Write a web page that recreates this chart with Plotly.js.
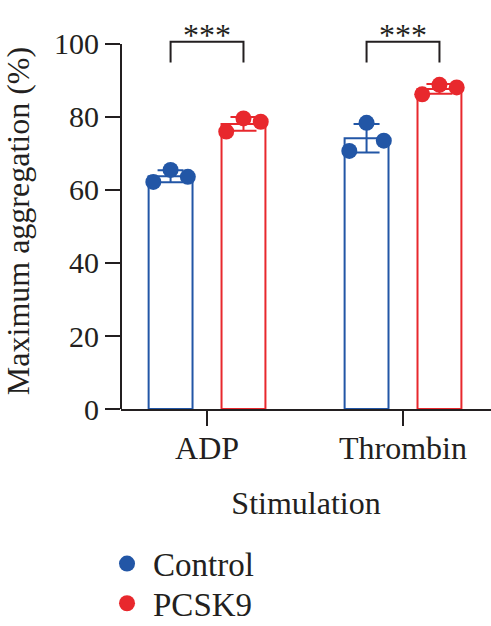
<!DOCTYPE html>
<html>
<head>
<meta charset="utf-8">
<script src="https://cdn.plot.ly/plotly-3.0.1.min.js"></script>
<style>
  html, body { margin: 0; padding: 0; background: #ffffff; }
  #chart { width: 491px; height: 626px; }
</style>
</head>
<body>
<div id="chart"></div>
<script>
// Platelet aggregation by stimulus: three replicates per group
const categories = ['ADP', 'Thrombin'];
const controlValues = [[62.2, 65.5, 63.6], [70.7, 78.4, 73.5]];
const pcsk9Values = [[76.0, 79.6, 78.7], [86.2, 88.8, 88.1]];
const yTickValues = [0, 20, 40, 60, 80, 100];
const significanceLabels = ['***', '***'];
const groupNames = ['Control', 'PCSK9'];

// Styling
const FONT = 'Liberation Serif, Times New Roman, serif';
const INK = '#231f20';
const BLUE = '#2256a6';
const RED = '#e8282d';
const GROUP_OFFSET = 0.186;   // half distance between paired bars (category units)
const BAR_WIDTH = 0.224;
const JITTER = [-0.088, 0, 0.088];
const BRACKET_TOP = 100.6;
const BRACKET_LEG = 94.9;

function mean(a) { return a.reduce((s, v) => s + v, 0) / a.length; }
function sd(a) {
  const m = mean(a);
  return Math.sqrt(a.reduce((s, v) => s + (v - m) * (v - m), 0) / (a.length - 1));
}

const groups = [
  { name: groupNames[0], values: controlValues, color: BLUE, offset: -GROUP_OFFSET, legend: 'legend' },
  { name: groupNames[1], values: pcsk9Values, color: RED, offset: GROUP_OFFSET, legend: 'legend2' }
];

const traces = [];

// Hollow bars at the group means, with SD error bars
groups.forEach(g => {
  traces.push({
    type: 'bar',
    x: categories.map((_, i) => i + g.offset),
    y: g.values.map(mean),
    width: BAR_WIDTH,
    marker: { color: 'rgba(255,255,255,0)', line: { color: g.color, width: 2 } },
    error_y: { type: 'data', array: g.values.map(sd), visible: true,
               color: g.color, thickness: 2, width: 13 },
    showlegend: false,
    hoverinfo: 'skip'
  });
});

// Individual replicates
groups.forEach(g => {
  const xs = [], ys = [];
  g.values.forEach((reps, i) => {
    reps.forEach((v, j) => { xs.push(i + g.offset + JITTER[j]); ys.push(v); });
  });
  traces.push({
    type: 'scatter',
    mode: 'markers',
    name: g.name,
    legend: g.legend,
    x: xs,
    y: ys,
    marker: { color: g.color, size: 16, line: { width: 0 } },
    cliponaxis: false
  });
});

// Significance brackets and the y axis line (0 to the last tick)
const shapes = [{
  type: 'line', xref: 'paper', yref: 'y',
  x0: 0, x1: 0, y0: yTickValues[0], y1: yTickValues[yTickValues.length - 1],
  line: { color: INK, width: 2 }
}];
const annotations = [];
categories.forEach((c, i) => {
  const xl = i - GROUP_OFFSET, xr = i + GROUP_OFFSET;
  shapes.push({
    type: 'path', xref: 'x', yref: 'y',
    path: `M ${xl},${BRACKET_LEG} L ${xl},${BRACKET_TOP} L ${xr},${BRACKET_TOP} L ${xr},${BRACKET_LEG}`,
    line: { color: INK, width: 2 }
  });
  annotations.push({
    x: i, y: BRACKET_TOP, xref: 'x', yref: 'y',
    text: significanceLabels[i], showarrow: false,
    yanchor: 'bottom', yshift: -13,
    font: { family: FONT, size: 32, color: INK }
  });
});

annotations.push({
  text: 'Maximum aggregation (%)',
  xref: 'paper', yref: 'y', x: -0.278, y: 51.5,
  xanchor: 'center', yanchor: 'middle', textangle: -90, showarrow: false,
  font: { family: FONT, size: 32, color: INK }
});

const legendStyle = {
  xanchor: 'left', yanchor: 'middle',
  font: { family: FONT, size: 33, color: INK },
  bgcolor: 'rgba(0,0,0,0)', itemwidth: 42
};

const layout = {
  width: 491,
  height: 626,
  margin: { l: 121, r: 0, t: 0, b: 217, autoexpand: false },
  paper_bgcolor: '#ffffff',
  plot_bgcolor: '#ffffff',
  font: { family: FONT, color: INK },
  barmode: 'overlay',
  showlegend: true,
  legend: Object.assign({ x: -0.054, y: -0.378 }, legendStyle),
  legend2: Object.assign({ x: -0.054, y: -0.475 }, legendStyle),
  xaxis: {
    range: [-0.439, 1.449],
    tickvals: categories.map((_, i) => i),
    ticktext: categories,
    ticks: 'outside', ticklen: 15, tickwidth: 2, tickcolor: INK,
    showline: true, linewidth: 2, linecolor: INK,
    showgrid: false, zeroline: false,
    ticklabelstandoff: -5,
    tickfont: { family: FONT, size: 32, color: INK },
    title: { text: 'Stimulation', font: { family: FONT, size: 32, color: INK }, standoff: 26 }
  },
  yaxis: {
    range: [0, 112.05],
    tickvals: yTickValues,
    ticksuffix: '\u00a0',
    ticks: 'outside', ticklen: 15, tickwidth: 2, tickcolor: INK,
    showline: false, showgrid: false, zeroline: false,
    tickfont: { family: FONT, size: 30, color: INK }
  },
  shapes: shapes,
  annotations: annotations
};

Plotly.newPlot('chart', traces, layout, { displayModeBar: false, staticPlot: true });
</script>
</body>
</html>
